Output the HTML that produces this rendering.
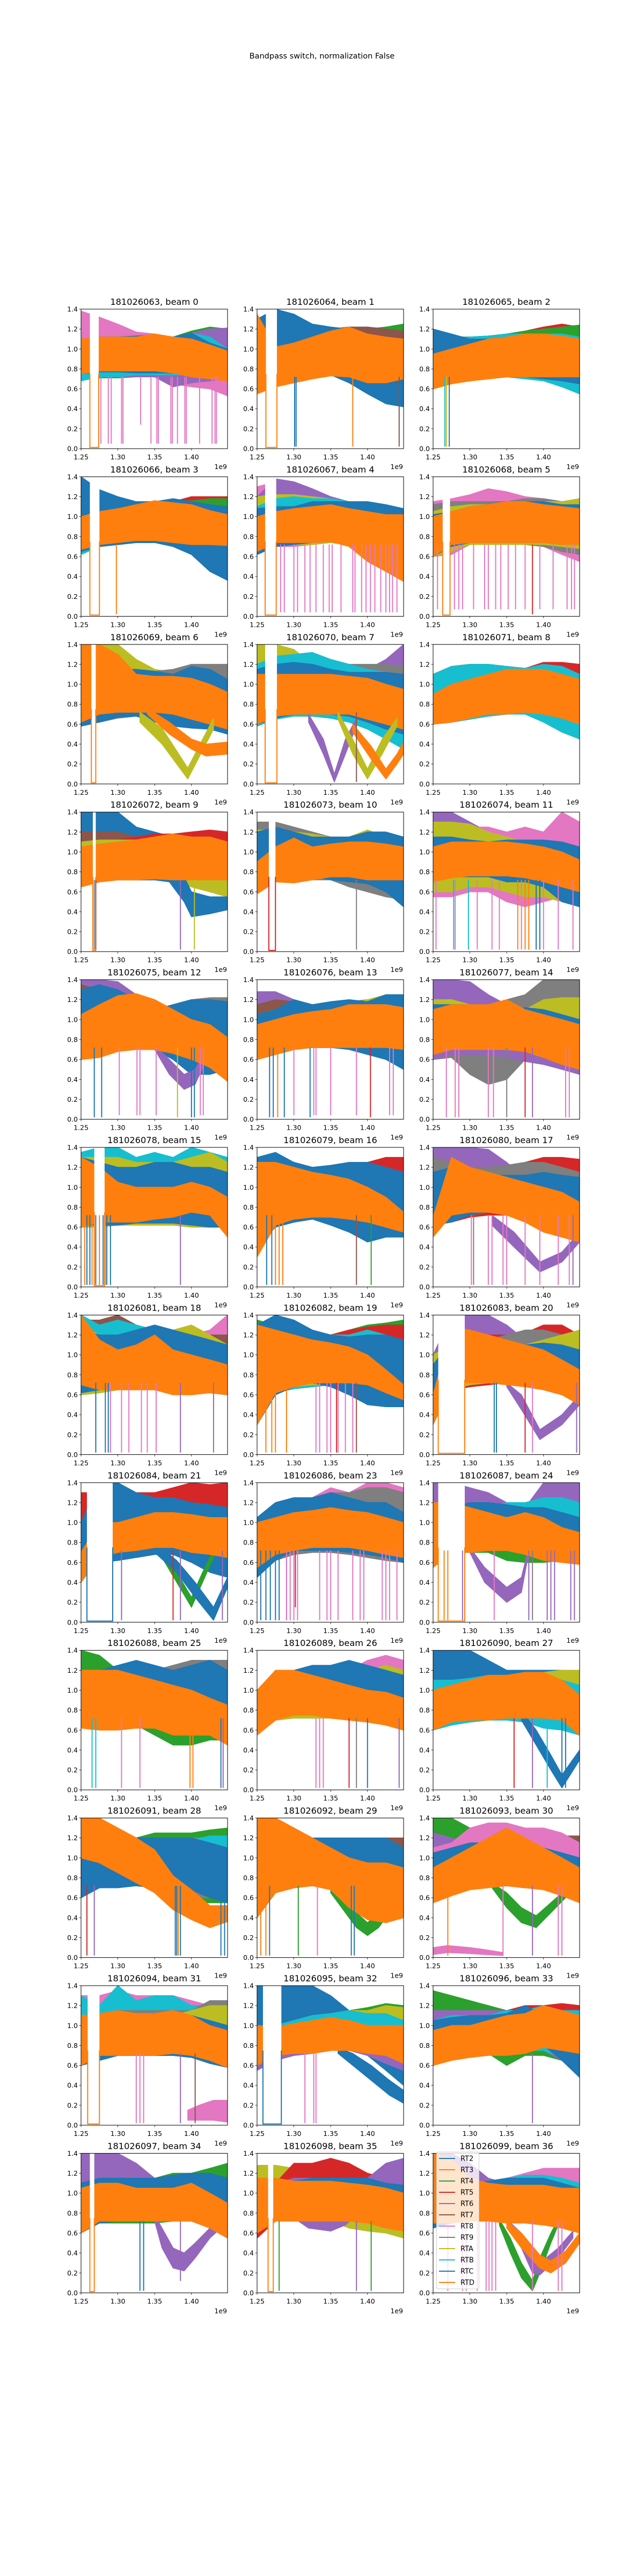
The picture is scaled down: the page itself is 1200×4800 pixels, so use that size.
<!DOCTYPE html>
<html><head><meta charset="utf-8">
<style>
html,body{margin:0;padding:0;background:#fff;}
svg{display:block;font-family:"DejaVu Sans","Liberation Sans",sans-serif;}
</style></head>
<body>
<svg id="fig" width="1200" height="4800" viewBox="0 0 1200 4800" xmlns="http://www.w3.org/2000/svg">
<rect width="1200" height="4800" fill="#fff"/>
<text x="600" y="109" text-anchor="middle" font-size="14.5" fill="#000">Bandpass switch, normalization False</text>
</svg>
<script>
// ---- chart data ----
const panelTitles = ["181026063, beam 0","181026064, beam 1","181026065, beam 2","181026066, beam 3","181026067, beam 4","181026068, beam 5","181026069, beam 6","181026070, beam 7","181026071, beam 8","181026072, beam 9","181026073, beam 10","181026074, beam 11","181026075, beam 12","181026076, beam 13","181026077, beam 14","181026078, beam 15","181026079, beam 16","181026080, beam 17","181026081, beam 18","181026082, beam 19","181026083, beam 20","181026084, beam 21","181026086, beam 23","181026087, beam 24","181026088, beam 25","181026089, beam 26","181026090, beam 27","181026091, beam 28","181026092, beam 29","181026093, beam 30","181026094, beam 31","181026095, beam 32","181026096, beam 33","181026097, beam 34","181026098, beam 35","181026099, beam 36"];
const knotFreqs = [1.25,1.275,1.30,1.325,1.35,1.375,1.40,1.425,1.449];
const xTicks = [1.25,1.30,1.35,1.40];
const xTickLabels = ["1.25","1.30","1.35","1.40"];
const yTicks = [0,0.2,0.4,0.6,0.8,1.0,1.2,1.4];
const yTickLabels = ["0.0","0.2","0.4","0.6","0.8","1.0","1.2","1.4"];
const legendLabels = ["RT2","RT3","RT4","RT5","RT6","RT7","RT8","RT9","RTA","RTB","RTC","RTD"];
const legendKeys = ["b","o","g","r","p","n","k","gy","ol","c","b","o"];
// layers: [colorKey, lowValues, highValues, optionalFreqs]
const panelLayers = [
 [["k",[.68,.72,.72,.72,.72,.65,.62,.60,.53],[1.38,1.32,1.25,1.17,1.15,1.12,1.14,1.14,1.1]],
  ["g",[.7,.71,.71,.72,.74,.74,.74,.74,.72],[1.05,1.08,1.1,1.12,1.14,1.12,1.18,1.22,1.2]],
  ["p",[.7,.72,.72,.72,.72,.62,.66,.68,.7],[1.05,1.08,1.1,1.12,1.14,1.12,1.16,1.2,1.21]],
  ["c",[.68,.72,.72,.74,.74,.74,.74,.72,.7],[1.08,1.1,1.12,1.13,1.14,1.12,1.16,1.12,1.0]],
  ["b",[.75,.77,.77,.76,.76,.76,.74,.74,.74],[1.1,1.12,1.12,1.13,1.14,1.12,1.16,1.06,1.0]],
  ["o",[.75,.78,.78,.78,.78,.76,.72,.70,.68],[1.1,1.12,1.12,1.12,1.15,1.12,1.1,1.04,.98]]],
 [["g",[.55,.7,.72,.75,.75,.74,.72,.7,.7],[1.3,1.35,1.3,1.22,1.2,1.22,1.2,1.22,1.25]],
  ["n",[.55,.7,.72,.75,.75,.74,.72,.7,.7],[1.3,1.35,1.3,1.22,1.2,1.22,1.22,1.2,1.18]],
  ["b",[.6,.62,.7,.72,.74,.66,.55,.45,.42],[1.3,1.4,1.35,1.25,1.22,1.2,1.12,1.1,1.08]],
  ["o",[.55,.62,.66,.70,.73,.72,.66,.66,.7],[1.35,1.02,1.06,1.12,1.18,1.22,1.15,1.12,1.1]]],
 [["r",[.65,.66,.68,.7,.72,.72,.75,.78,.8],[1.15,1.12,1.12,1.13,1.15,1.18,1.22,1.25,1.22]],
  ["g",[.65,.66,.68,.7,.72,.72,.75,.78,.8],[1.15,1.12,1.12,1.13,1.15,1.18,1.2,1.22,1.24]],
  ["c",[.65,.68,.7,.72,.72,.7,.68,.62,.55],[1.15,1.12,1.12,1.13,1.15,1.15,1.15,1.15,1.12]],
  ["b",[.6,.7,.72,.72,.72,.72,.7,.68,.65],[1.2,1.15,1.1,1.1,1.12,1.12,1.1,1.08,1.05]],
  ["o",[.6,.65,.68,.7,.72,.72,.72,.72,.72],[.95,1.0,1.05,1.1,1.12,1.15,1.15,1.13,1.1]]],
 [["r",[.65,.7,.72,.74,.74,.72,.72,.8,.9],[1.2,1.2,1.18,1.12,1.12,1.15,1.2,1.2,1.2]],
  ["g",[.65,.7,.72,.74,.74,.72,.72,.8,.9],[1.2,1.2,1.18,1.12,1.12,1.15,1.16,1.18,1.18]],
  ["c",[.62,.7,.72,.74,.74,.72,.7,.68,.6],[1.12,1.12,1.12,1.12,1.12,1.12,1.1,1.08,1.05]],
  ["b",[.65,.7,.72,.74,.74,.70,.62,.45,.36],[1.4,1.27,1.2,1.15,1.15,1.18,1.15,1.12,1.1]],
  ["o",[.67,.72,.74,.76,.76,.74,.72,.72,.71],[1.0,1.05,1.08,1.12,1.16,1.14,1.12,1.06,1.02]]],
 [["k",[.62,.70,.70,.72,.74,.72,.6,.45,.4],[1.3,1.35,1.3,1.25,1.2,1.1,1.05,1.0,.95]],
  ["p",[.62,.72,.72,.72,.74,.72,.65,.55,.5],[1.2,1.38,1.35,1.28,1.2,1.15,1.1,1.05,1.0]],
  ["ol",[.62,.72,.72,.72,.74,.72,.65,.55,.5],[1.2,1.22,1.22,1.2,1.18,1.15,1.1,1.05,1.0]],
  ["c",[.62,.72,.73,.74,.75,.72,.68,.6,.5],[1.1,1.18,1.2,1.18,1.18,1.15,1.1,1.05,1.0]],
  ["b",[.62,.70,.72,.74,.75,.74,.70,.68,.66],[1.08,1.1,1.1,1.15,1.15,1.15,1.15,1.12,1.08]],
  ["o",[.65,.74,.74,.74,.75,.70,.55,.45,.35],[1.0,1.05,1.08,1.1,1.12,1.08,1.05,1.02,1.02]]],
 [["k",[.6,.62,.72,.72,.72,.72,.7,.62,.55],[1.15,1.18,1.22,1.28,1.25,1.2,1.18,1.15,1.15]],
  ["gy",[.6,.65,.72,.72,.72,.72,.7,.65,.62],[1.12,1.15,1.15,1.15,1.15,1.18,1.18,1.15,1.18]],
  ["ol",[.6,.65,.72,.72,.72,.72,.72,.7,.68],[1.05,1.1,1.12,1.12,1.12,1.15,1.15,1.15,1.18]],
  ["b",[.6,.7,.74,.74,.74,.74,.74,.72,.72],[1.02,1.05,1.1,1.12,1.15,1.15,1.15,1.12,1.12]],
  ["o",[.6,.72,.74,.74,.74,.74,.74,.72,.72],[1.0,1.05,1.1,1.12,1.15,1.15,1.12,1.1,1.08]]],
 [["ol",[.9,.9,.9,.9,.9,.9,.9,.9,.9],[1.4,1.4,1.4,1.25,1.15,1.12,1.1,1.1,1.1]],
  ["gy",[.6,.62,.66,.68,.65,.6,.58,.55,.55],[1.1,1.12,1.15,1.15,1.13,1.15,1.2,1.2,1.2]],
  ["b",[.58,.62,.67,.68,.62,.58,.56,.55,.5],[1.1,1.12,1.15,1.15,1.13,1.1,1.18,1.15,1.05]],
  ["o",[.62,.7,.72,.72,.72,.7,.65,.6,.55],[1.4,1.4,1.3,1.1,1.08,1.08,1.06,1.0,.92]],
  ["ol",[.62,.4,.05,.55],[.72,.56,.16,.66],[1.33,1.36,1.395,1.43]],
  ["o",[.7,.5,.35,.28,.3],[.76,.62,.45,.4,.42],[1.34,1.37,1.40,1.42,1.449]]],
 [["ol",[.9,.9,.9,.9,.9,.9,.9,.9,.9],[1.4,1.4,1.35,1.2,1.15,1.12,1.1,1.1,1.1]],
  ["p",[.9,.9,.9,.9,.9,.9,.9,1.0,1.0],[1.1,1.1,1.1,1.1,1.1,1.1,1.15,1.25,1.4]],
  ["gy",[.58,.65,.68,.68,.66,.62,.6,.55,.52],[1.2,1.28,1.3,1.3,1.25,1.2,1.2,1.2,1.18]],
  ["c",[.58,.65,.68,.68,.66,.62,.55,.45,.35],[1.2,1.28,1.3,1.32,1.25,1.2,1.15,1.12,1.1]],
  ["b",[.6,.66,.7,.7,.7,.68,.62,.55,.5],[1.15,1.2,1.22,1.2,1.15,1.12,1.12,1.12,1.1]],
  ["o",[.6,.68,.7,.7,.7,.7,.65,.6,.55],[1.1,1.1,1.1,1.1,1.1,1.08,1.06,1.0,.95]],
  ["p",[.62,.3,.02,.3,.58],[.7,.45,.1,.45,.66],[1.32,1.34,1.355,1.37,1.385]],
  ["ol",[.65,.3,.05,.3,.58],[.72,.45,.15,.45,.66],[1.36,1.38,1.40,1.42,1.44]],
  ["o",[.52,.25,.05,.2,.3],[.6,.38,.15,.3,.42],[1.38,1.405,1.425,1.44,1.449]]],
 [["r",[.6,.62,.65,.68,.7,.7,.75,.8,.8],[1.1,1.18,1.2,1.2,1.18,1.16,1.22,1.22,1.2]],
  ["c",[.6,.62,.65,.68,.7,.7,.62,.52,.45],[1.1,1.18,1.2,1.2,1.18,1.16,1.2,1.18,1.1]],
  ["o",[.6,.62,.66,.7,.7,.72,.7,.66,.6],[.9,1.0,1.05,1.1,1.15,1.15,1.15,1.1,1.05]]],
 [["b",[.75,.75,.75,.75,.75,.75,.75,.75,.75],[1.4,1.4,1.4,1.25,1.2,1.15,1.1,1.1,1.1]],
  ["n",[.65,.7,.72,.72,.72,.7,.65,.6,.55],[1.2,1.2,1.2,1.15,1.12,1.12,1.15,1.18,1.15]],
  ["r",[.65,.7,.72,.72,.72,.7,.72,.85,.9],[1.05,1.1,1.12,1.15,1.18,1.18,1.2,1.22,1.2]],
  ["ol",[.65,.7,.72,.72,.72,.7,.65,.6,.55],[1.1,1.12,1.12,1.12,1.1,1.1,1.1,1.1,1.1]],
  ["b",[.72,.72,.72,.72,.7,.5,.35,.38,.42],[.9,.9,.9,.9,.85,.75,.6,.55,.55],[1.25,1.30,1.33,1.35,1.37,1.39,1.40,1.425,1.449]],
  ["o",[.65,.7,.72,.72,.73,.72,.72,.72,.72],[1.05,1.08,1.1,1.12,1.15,1.18,1.15,1.15,1.1]]],
 [["gy",[.6,.7,.72,.72,.72,.65,.6,.55,.52],[1.3,1.3,1.25,1.2,1.15,1.12,1.15,1.1,1.1]],
  ["ol",[.6,.7,.73,.75,.72,.7,.68,.6,.45],[1.22,1.22,1.2,1.18,1.15,1.15,1.22,1.15,1.1]],
  ["b",[.6,.7,.73,.75,.72,.7,.68,.6,.45],[1.2,1.25,1.2,1.15,1.15,1.15,1.2,1.2,1.15]],
  ["o",[.58,.7,.69,.72,.75,.75,.72,.72,.72],[.9,1.05,1.14,1.05,1.08,1.1,1.1,1.08,1.05]]],
 [["p",[.9,.9,.9,.9,.9,.9,.9,.9,.9],[1.4,1.4,1.3,1.2,1.15,1.1,1.1,1.1,1.1]],
  ["k",[.55,.55,.6,.6,.5,.45,.5,.55,.55],[1.25,1.28,1.25,1.25,1.2,1.25,1.2,1.4,1.3]],
  ["ol",[.6,.6,.65,.65,.6,.55,.55,.5,.5],[1.3,1.3,1.28,1.2,1.15,1.1,1.1,1.1,1.05]],
  ["b",[.75,.75,.75,.75,.7,.7,.65,.5,.45],[1.15,1.15,1.12,1.1,1.12,1.12,1.12,1.1,1.05]],
  ["o",[.7,.74,.76,.76,.76,.74,.7,.65,.6],[1.05,1.1,1.1,1.1,1.1,1.08,1.05,1.0,.92]]],
 [["p",[.9,.9,.9,.9,.9,.9,.9,.9,.9],[1.4,1.4,1.38,1.25,1.1,1.05,1.05,1.05,1.05]],
  ["n",[.65,.65,.7,.7,.7,.65,.6,.6,.55],[1.35,1.3,1.28,1.2,1.1,1.1,1.15,1.2,1.2]],
  ["gy",[.65,.65,.7,.7,.7,.65,.6,.6,.55],[1.2,1.2,1.2,1.15,1.1,1.15,1.2,1.22,1.22]],
  ["ol",[.65,.65,.7,.7,.7,.65,.6,.6,.55],[1.1,1.1,1.1,1.1,1.05,1.1,1.15,1.15,1.15]],
  ["b",[.65,.68,.7,.72,.7,.6,.45,.45,.5],[1.3,1.35,1.3,1.2,1.1,1.15,1.2,1.2,1.18]],
  ["p",[.7,.45,.3,.35,.6],[.74,.6,.45,.5,.7],[1.35,1.37,1.39,1.405,1.42]],
  ["o",[.6,.62,.68,.7,.7,.66,.6,.52,.38],[1.05,1.15,1.24,1.26,1.2,1.1,1.0,.95,.82]]],
 [["p",[.6,.65,.7,.72,.72,.72,.72,.7,.65],[1.28,1.28,1.2,1.15,1.15,1.15,1.15,1.1,1.1]],
  ["n",[.6,.65,.7,.72,.72,.72,.72,.7,.65],[1.15,1.2,1.18,1.1,1.1,1.1,1.1,1.1,1.1]],
  ["gy",[.6,.65,.7,.72,.72,.72,.72,.7,.65],[1.05,1.1,1.1,1.1,1.1,1.18,1.2,1.2,1.18]],
  ["ol",[.6,.65,.7,.72,.72,.72,.72,.7,.68],[1.05,1.1,1.1,1.1,1.1,1.15,1.2,1.25,1.25]],
  ["b",[.6,.65,.7,.72,.72,.7,.65,.6,.5],[1.05,1.1,1.2,1.15,1.18,1.2,1.18,1.25,1.25]],
  ["o",[.6,.65,.7,.72,.72,.72,.72,.72,.7],[.95,1.0,1.05,1.08,1.1,1.15,1.15,1.15,1.12]]],
 [["p",[.9,.9,.9,.9,.9,.9,.9,.9,.9],[1.4,1.4,1.38,1.25,1.15,1.1,1.1,1.1,1.1]],
  ["gy",[.6,.62,.45,.35,.4,.6,.65,.65,.6],[1.2,1.2,1.15,1.12,1.2,1.25,1.4,1.4,1.4]],
  ["ol",[.6,.65,.7,.7,.68,.65,.6,.6,.55],[1.2,1.2,1.15,1.1,1.05,1.1,1.2,1.22,1.22]],
  ["p",[.6,.65,.65,.65,.62,.58,.55,.5,.45],[.9,.9,.9,.85,.8,.75,.75,.75,.75]],
  ["b",[.7,.72,.72,.72,.72,.7,.65,.6,.55],[1.15,1.15,1.15,1.12,1.1,1.12,1.1,1.05,1.0]],
  ["o",[.65,.7,.7,.7,.7,.68,.62,.55,.5],[1.1,1.15,1.15,1.15,1.2,1.1,1.05,1.0,.95]]],
 [["c",[.6,.6,.62,.62,.62,.62,.6,.6,.6],[1.35,1.4,1.4,1.3,1.35,1.3,1.4,1.35,1.3]],
  ["ol",[.6,.6,.62,.62,.62,.62,.6,.6,.6],[1.3,1.3,1.3,1.25,1.25,1.25,1.3,1.35,1.25]],
  ["b",[.62,.62,.62,.64,.64,.64,.62,.6,.6],[1.3,1.25,1.2,1.2,1.25,1.25,1.2,1.2,1.15]],
  ["o",[.6,.65,.65,.65,.68,.7,.75,.72,.5],[1.3,1.2,1.05,1.0,1.0,1.0,1.05,1.0,.9]]],
 [["r",[.5,.6,.65,.68,.7,.7,.75,.8,.85],[1.3,1.3,1.25,1.2,1.2,1.2,1.25,1.3,1.3]],
  ["c",[.5,.6,.65,.68,.7,.7,.75,.78,.75],[1.3,1.3,1.25,1.2,1.2,1.2,1.2,1.15,1.05]],
  ["ol",[.5,.62,.68,.7,.7,.68,.62,.55,.5],[1.3,1.3,1.25,1.2,1.2,1.18,1.12,1.05,1.0]],
  ["b",[.4,.6,.65,.68,.62,.55,.45,.5,.5],[1.3,1.35,1.25,1.2,1.22,1.25,1.25,1.2,1.15]],
  ["o",[.3,.62,.68,.7,.7,.68,.65,.6,.55],[1.25,1.25,1.2,1.15,1.12,1.08,1.0,.9,.75]]],
 [["p",[.9,.9,.9,.9,.9,.9,.9,.9,.9],[1.4,1.4,1.4,1.38,1.25,1.1,1.05,1.05,1.05]],
  ["r",[.62,.65,.7,.72,.72,.8,.9,.9,.9],[1.3,1.25,1.2,1.2,1.22,1.25,1.3,1.3,1.28]],
  ["gy",[.62,.65,.72,.75,.72,.7,.65,.6,.55],[1.3,1.25,1.2,1.2,1.22,1.25,1.25,1.2,1.15]],
  ["b",[.62,.65,.72,.75,.72,.7,.65,.6,.55],[1.15,1.2,1.15,1.12,1.12,1.12,1.15,1.12,1.1]],
  ["p",[.62,.4,.15,.25,.45],[.72,.55,.25,.35,.55],[1.33,1.36,1.395,1.425,1.449]],
  ["o",[.5,.72,.75,.75,.72,.65,.55,.5,.45],[.7,1.3,1.2,1.15,1.1,1.05,1.0,.95,.85]]],
 [["k",[.6,.62,.65,.65,.65,.62,.62,.62,.6],[1.4,1.3,1.25,1.2,1.2,1.2,1.2,1.25,1.4]],
  ["n",[.6,.62,.65,.65,.65,.62,.62,.62,.6],[1.35,1.35,1.4,1.3,1.25,1.2,1.25,1.2,1.2]],
  ["c",[.6,.62,.65,.65,.65,.62,.62,.62,.6],[1.4,1.3,1.35,1.3,1.25,1.25,1.2,1.2,1.1]],
  ["ol",[.6,.62,.65,.65,.65,.62,.62,.62,.6],[1.3,1.2,1.15,1.15,1.2,1.25,1.3,1.2,1.1]],
  ["b",[.62,.65,.68,.68,.68,.65,.62,.62,.6],[1.25,1.2,1.2,1.25,1.3,1.25,1.2,1.15,1.1]],
  ["o",[.7,.65,.65,.65,.65,.6,.6,.62,.6],[1.4,1.15,1.05,1.1,1.2,1.05,1.0,.95,.9]]],
 [["g",[.3,.65,.68,.72,.72,.72,.72,.72,.72],[1.35,1.3,1.25,1.2,1.2,1.25,1.3,1.32,1.35]],
  ["r",[.3,.62,.66,.68,.7,.72,.72,.72,.72],[1.3,1.28,1.25,1.2,1.2,1.25,1.28,1.3,1.3]],
  ["c",[.3,.62,.66,.68,.7,.72,.72,.65,.6],[1.3,1.28,1.25,1.2,1.2,1.2,1.25,1.2,1.05]],
  ["ol",[.3,.65,.68,.7,.7,.68,.62,.55,.5],[1.25,1.25,1.2,1.2,1.15,1.1,1.05,1.0,.9]],
  ["b",[.3,.6,.68,.72,.68,.6,.5,.48,.48],[1.3,1.4,1.35,1.25,1.2,1.18,1.2,1.2,1.15]],
  ["o",[.3,.62,.68,.72,.72,.72,.7,.62,.55],[1.3,1.25,1.2,1.15,1.12,1.08,1.0,.85,.7]]],
 [["p",[.9,.9,.9,.9,.9,.9,.9,.9,.9],[1.0,1.4,1.4,1.4,1.3,1.15,1.1,1.1,1.1]],
  ["r",[.6,.65,.68,.7,.72,.75,.8,.85,.9],[1.0,1.2,1.2,1.2,1.2,1.22,1.3,1.3,1.2]],
  ["gy",[.6,.65,.7,.72,.72,.72,.7,.65,.6],[1.0,1.2,1.2,1.15,1.2,1.25,1.25,1.2,1.15]],
  ["ol",[.6,.65,.7,.72,.72,.72,.7,.7,.7],[1.0,1.1,1.1,1.1,1.1,1.1,1.15,1.2,1.25]],
  ["b",[.3,.7,.74,.74,.72,.7,.65,.6,.55],[.9,1.15,1.12,1.1,1.08,1.1,1.12,1.1,1.05]],
  ["p",[.68,.45,.15,.3,.5],[.72,.6,.25,.4,.6],[1.35,1.37,1.395,1.425,1.449]],
  ["o",[.3,.72,.72,.72,.7,.68,.65,.6,.5],[.6,1.28,1.25,1.2,1.15,1.1,1.05,.95,.85]]],
 [["r",[.6,.6,.65,.65,.68,.7,.72,.8,.9],[1.3,1.3,1.35,1.3,1.3,1.35,1.4,1.38,1.4]],
  ["b",[.5,.6,.62,.65,.68,.68,.6,.5,.45],[1.0,1.4,1.4,1.3,1.25,1.25,1.2,1.18,1.15]],
  ["g",[.65,.4,.15,.4,.65],[.72,.5,.25,.5,.72],[1.36,1.38,1.40,1.415,1.43]],
  ["b",[.7,.5,.25,.02,.35],[.8,.62,.4,.15,.45],[1.35,1.38,1.405,1.43,1.449]],
  ["o",[.4,.65,.7,.72,.75,.75,.7,.68,.65],[.7,1.0,1.0,1.05,1.1,1.1,1.08,1.05,1.05]]],
 [["k",[.6,.62,.68,.7,.7,.68,.65,.62,.6],[1.0,1.15,1.2,1.25,1.35,1.3,1.4,1.4,1.35]],
  ["gy",[.6,.62,.68,.7,.7,.68,.65,.62,.6],[1.05,1.2,1.25,1.25,1.3,1.3,1.35,1.35,1.3]],
  ["b",[.45,.62,.72,.72,.72,.7,.68,.65,.6],[1.05,1.2,1.25,1.25,1.3,1.25,1.2,1.2,1.1]],
  ["o",[.55,.68,.72,.75,.75,.75,.72,.68,.65],[1.0,1.05,1.1,1.12,1.15,1.12,1.1,1.05,1.0]]],
 [["p",[.9,.9,.9,.9,.9,.9,.9,.9,.9],[1.4,1.4,1.35,1.3,1.2,1.15,1.4,1.4,1.4]],
  ["c",[.55,.7,.7,.7,.7,.72,.72,.7,.65],[1.15,1.15,1.15,1.15,1.2,1.2,1.25,1.25,1.2]],
  ["g",[.55,.7,.7,.7,.62,.6,.6,.62,.6],[1.15,1.15,1.15,1.1,1.1,1.1,1.1,1.1,1.05]],
  ["b",[.55,.72,.7,.72,.72,.7,.7,.68,.6],[1.1,1.15,1.2,1.2,1.18,1.15,1.15,1.1,1.05]],
  ["p",[.7,.4,.2,.3,.7],[.75,.55,.35,.45,.75],[1.30,1.32,1.35,1.37,1.38]],
  ["o",[.55,.72,.7,.72,.72,.68,.62,.6,.58],[1.2,1.2,1.15,1.1,1.05,1.1,1.05,.95,.9]]],
 [["g",[.7,.68,.68,.65,.55,.45,.45,.5,.5],[1.4,1.35,1.2,1.15,1.15,1.2,1.2,1.2,1.15]],
  ["gy",[.62,.62,.62,.62,.62,.6,.6,.62,.6],[1.15,1.2,1.2,1.2,1.2,1.25,1.3,1.3,1.3]],
  ["ol",[.62,.62,.62,.62,.62,.6,.6,.62,.6],[1.1,1.15,1.15,1.15,1.15,1.2,1.2,1.2,1.15]],
  ["b",[.62,.62,.62,.62,.62,.6,.6,.55,.5],[1.15,1.2,1.25,1.3,1.25,1.2,1.25,1.3,1.2]],
  ["o",[.62,.6,.6,.62,.62,.55,.55,.55,.45],[1.2,1.2,1.2,1.15,1.1,1.05,1.0,.92,.85]]],
 [["k",[.55,.7,.72,.72,.72,.7,.68,.65,.6],[.9,1.15,1.2,1.2,1.25,1.2,1.3,1.35,1.3]],
  ["ol",[.55,.7,.72,.72,.72,.7,.68,.65,.6],[.9,1.1,1.15,1.15,1.15,1.15,1.2,1.25,1.2]],
  ["b",[.55,.72,.75,.78,.75,.72,.7,.65,.6],[.9,1.2,1.2,1.25,1.25,1.3,1.25,1.2,1.15]],
  ["o",[.55,.7,.75,.75,.72,.7,.68,.65,.6],[1.0,1.2,1.2,1.15,1.1,1.05,1.0,.98,.92]]],
 [["b",[.75,.75,.75,.75,.75,.75,.75,.75,.75],[1.4,1.4,1.4,1.3,1.2,1.2,1.2,1.2,1.15]],
  ["ol",[.6,.65,.68,.7,.7,.7,.7,.65,.55],[1.1,1.1,1.1,1.12,1.15,1.15,1.18,1.2,1.2]],
  ["c",[.6,.65,.68,.7,.7,.68,.62,.6,.55],[1.1,1.1,1.12,1.15,1.15,1.18,1.15,1.1,1.05]],
  ["b",[.7,.45,.2,.02,.3],[.8,.6,.35,.15,.4],[1.37,1.39,1.41,1.425,1.449]],
  ["o",[.6,.68,.7,.7,.72,.72,.72,.7,.55],[1.0,1.05,1.1,1.15,1.15,1.18,1.18,1.1,.95]]],
 [["g",[.65,.7,.72,.72,.7,.62,.55,.55,.55],[1.0,1.1,1.15,1.2,1.25,1.25,1.25,1.28,1.3]],
  ["gy",[.65,.7,.72,.72,.7,.65,.6,.6,.6],[1.0,1.0,1.05,1.15,1.2,1.2,1.2,1.2,1.2]],
  ["c",[.6,.7,.72,.72,.72,.7,.68,.65,.6],[.95,.95,1.0,1.15,1.18,1.15,1.18,1.22,1.22]],
  ["b",[.6,.7,.7,.72,.7,.7,.68,.6,.55],[1.0,1.0,.95,1.2,1.2,1.2,1.2,1.15,1.1]],
  ["o",[1.0,.95,.85,.75,.65,.48,.38,.3,.36],[1.4,1.4,1.3,1.2,1.08,.82,.68,.52,.52]]],
 [["n",[.4,.65,.7,.72,.75,.72,.7,.7,.7],[1.4,1.4,1.3,1.2,1.15,1.18,1.2,1.2,1.2]],
  ["b",[.5,.65,.7,.72,.75,.7,.62,.5,.45],[1.3,1.25,1.2,1.2,1.2,1.2,1.2,1.2,1.1]],
  ["g",[.65,.45,.3,.22,.3,.45],[.72,.6,.45,.35,.45,.6],[1.35,1.37,1.385,1.40,1.415,1.43]],
  ["o",[.4,.65,.7,.72,.68,.5,.38,.35,.4],[1.4,1.4,1.3,1.2,1.1,1.0,.95,.95,.9]]],
 [["g",[.9,.9,.9,.9,.9,.9,.9,.9,.9],[1.4,1.4,1.3,1.2,1.15,1.15,1.15,1.15,1.15]],
  ["p",[.6,.65,.7,.72,.72,.7,.7,.7,.65],[1.25,1.2,1.15,1.15,1.15,1.15,1.15,1.15,1.2]],
  ["n",[.6,.65,.7,.72,.72,.7,.7,.7,.65],[1.1,1.1,1.15,1.2,1.2,1.2,1.2,1.22,1.22]],
  ["k",[.6,.65,.7,.72,.72,.7,.7,.7,.65],[1.1,1.15,1.3,1.35,1.35,1.3,1.3,1.25,1.15]],
  ["b",[.55,.62,.7,.72,.72,.7,.7,.7,.65],[1.05,1.1,1.15,1.15,1.2,1.15,1.1,1.05,1.0]],
  ["g",[.7,.5,.35,.3,.45,.6],[.75,.65,.5,.42,.55,.68],[1.33,1.35,1.37,1.39,1.41,1.43]],
  ["k",[.03,.05,.04,.03,.02],[.1,.12,.1,.08,.05],[1.25,1.27,1.30,1.32,1.345]],
  ["o",[.55,.62,.68,.7,.72,.7,.68,.62,.55],[.9,1.0,1.1,1.2,1.3,1.2,1.1,1.0,.9]]],
 [["k",[.6,.65,.7,.7,.7,.7,.68,.62,.58],[1.3,1.3,1.35,1.3,1.3,1.3,1.25,1.2,1.15]],
  ["c",[.6,.65,.7,.7,.7,.7,.68,.62,.58],[1.3,1.2,1.4,1.25,1.3,1.3,1.2,1.2,1.15]],
  ["gy",[.6,.65,.7,.7,.7,.7,.68,.62,.58],[1.05,1.1,1.15,1.15,1.15,1.15,1.15,1.25,1.25]],
  ["ol",[.6,.65,.7,.7,.7,.7,.68,.62,.58],[1.05,1.1,1.1,1.1,1.1,1.1,1.15,1.2,1.2]],
  ["b",[.6,.65,.7,.7,.7,.7,.68,.62,.58],[1.05,1.1,1.1,1.1,1.1,1.12,1.1,1.05,1.0]],
  ["k",[.05,.05,.05,.03],[.15,.2,.25,.25],[1.395,1.41,1.43,1.449]],
  ["o",[.6,.7,.7,.7,.7,.72,.7,.65,.58],[1.1,1.12,1.15,1.12,1.12,1.15,1.1,1.0,.95]]],
 [["b",[.6,.75,.75,.75,.75,.75,.7,.55,.4],[1.4,1.4,1.4,1.4,1.3,1.15,1.1,1.05,1.0]],
  ["g",[.55,.65,.7,.72,.75,.75,.72,.7,.65],[1.0,1.0,1.05,1.1,1.12,1.15,1.18,1.22,1.2]],
  ["ol",[.55,.65,.7,.72,.75,.75,.72,.7,.65],[1.0,1.0,1.05,1.1,1.12,1.15,1.15,1.2,1.18]],
  ["c",[.55,.65,.7,.72,.75,.75,.72,.7,.65],[1.0,1.0,1.05,1.1,1.12,1.15,1.12,1.12,1.05]],
  ["p",[.55,.65,.7,.72,.75,.75,.7,.62,.55],[1.0,1.0,1.0,1.0,1.0,1.0,1.0,.9,.9]],
  ["b",[.72,.6,.45,.3,.22],[.78,.72,.6,.45,.35],[1.36,1.38,1.405,1.43,1.449]],
  ["o",[.6,.7,.72,.72,.75,.75,.72,.7,.62],[1.0,.98,1.02,1.05,1.08,1.05,1.0,1.0,1.0]]],
 [["g",[.7,.7,.7,.72,.6,.7,.7,.65,.6],[1.35,1.3,1.25,1.2,1.15,1.15,1.15,1.15,1.12]],
  ["r",[.7,.7,.7,.72,.72,.75,.78,.78,.78],[1.1,1.1,1.1,1.1,1.15,1.2,1.2,1.22,1.2]],
  ["p",[.7,.7,.7,.72,.72,.75,.75,.65,.6],[1.15,1.15,1.15,1.15,1.15,1.15,1.15,1.15,1.15]],
  ["c",[.7,.7,.7,.72,.72,.75,.75,.68,.62],[1.05,1.1,1.1,1.1,1.15,1.15,1.2,1.15,1.15]],
  ["b",[.7,.7,.7,.72,.72,.75,.8,.65,.48],[1.05,1.08,1.1,1.1,1.12,1.2,1.1,1.05,1.0]],
  ["o",[.6,.65,.68,.7,.7,.72,.78,.75,.72],[.95,1.0,1.0,1.05,1.1,1.12,1.2,1.15,1.1]]],
 [["p",[.9,.9,.9,.9,.9,.9,.9,.9,.9],[1.4,1.4,1.4,1.3,1.15,1.1,1.1,1.1,1.1]],
  ["g",[.7,.7,.7,.7,.7,.72,.8,.9,.9],[1.1,1.15,1.15,1.15,1.15,1.2,1.2,1.25,1.3]],
  ["b",[.6,.7,.72,.72,.72,.72,.72,.65,.55],[1.1,1.15,1.15,1.15,1.15,1.18,1.2,1.2,1.15]],
  ["p",[.72,.45,.25,.22,.35,.55,.65],[.78,.65,.45,.4,.5,.65,.72],[1.35,1.36,1.375,1.39,1.405,1.425,1.44]],
  ["o",[.6,.72,.72,.72,.72,.72,.72,.65,.55],[1.05,1.1,1.1,1.05,1.05,1.05,1.1,1.0,.9]]],
 [["ol",[.6,.72,.75,.75,.72,.65,.62,.6,.55],[1.28,1.28,1.25,1.15,1.1,1.1,1.1,1.1,1.1]],
  ["r",[.55,.72,.75,.75,.72,.72,.72,.72,.7],[1.0,1.1,1.3,1.3,1.35,1.3,1.2,1.15,1.15]],
  ["p",[.6,.72,.75,.75,.72,.72,.72,.72,.7],[1.0,1.1,1.15,1.15,1.15,1.15,1.15,1.3,1.35]],
  ["b",[.6,.72,.72,.72,.72,.72,.72,.7,.65],[1.0,1.1,1.12,1.15,1.15,1.15,1.15,1.1,1.08]],
  ["p",[.75,.65,.62,.68,.75],[.8,.75,.75,.8,.82],[1.30,1.32,1.35,1.37,1.38]],
  ["o",[.6,.72,.72,.72,.72,.72,.7,.65,.62],[1.15,1.15,1.12,1.12,1.12,1.1,1.08,1.05,1.0]]],
 [["p",[.9,.9,.9,.9,.9,.9,.9,.9,.9],[1.4,1.4,1.3,1.15,1.1,1.1,1.1,1.1,1.1]],
  ["k",[.7,.7,.72,.72,.72,.72,.75,.8,.8],[1.1,1.1,1.1,1.1,1.15,1.2,1.25,1.25,1.25]],
  ["c",[.7,.7,.72,.72,.72,.72,.72,.72,.7],[1.1,1.1,1.1,1.12,1.15,1.18,1.18,1.15,1.1]],
  ["b",[.65,.7,.72,.72,.72,.72,.72,.72,.7],[1.1,1.1,1.1,1.12,1.15,1.15,1.15,1.1,1.05]],
  ["g",[.68,.4,.15,.02,.2,.5,.68],[.74,.55,.3,.12,.35,.6,.74],[1.34,1.355,1.37,1.385,1.395,1.41,1.42]],
  ["p",[.68,.45,.2,.18,.35,.55],[.74,.6,.35,.3,.45,.62],[1.35,1.37,1.385,1.395,1.42,1.44]],
  ["o",[.65,.45,.25,.2,.3,.5],[.72,.6,.38,.32,.42,.6],[1.35,1.37,1.395,1.41,1.43,1.449]],
  ["o",[.7,.7,.72,.72,.7,.7,.68,.65,.6],[1.4,1.35,1.15,1.1,1.08,1.08,1.08,1.05,1.05]]]
];
// gaps: [startFreq, endFreq, outlineColorKey] or null
const panelGaps = [[1.262,1.274,"o"],[1.262,1.277,"o"],null,[1.262,1.275,"o"],[1.261,1.276,"o"],[1.263,1.273,"o"],[1.264,1.27,"o"],[1.261,1.277,"o"],null,[1.266,1.27,"o"],[1.266,1.275,"r"],null,null,null,null,[1.268,1.282,"o"],null,null,null,null,[1.257,1.293,"o"],[1.258,1.293,"b"],null,[1.257,1.293,"o"],null,null,null,null,null,null,[1.259,1.275,"o"],[1.258,1.283,"b"],null,[1.262,1.268,"o"],[1.265,1.272,"o"],null];
// spikes: [colorKey, [freqs], minValue]
const panelSpikes = [
 [["k",[1.277,1.287,1.291,1.305,1.307,1.345,1.353,1.355,1.372,1.374,1.381,1.391,1.393,1.411,1.428,1.432,1.434],.05],["k",[1.331],.24]],
 [["b",[1.301,1.303],.02],["o",[1.38],.02],["n",[1.443],.02]],
 [["c",[1.266],.02],["ol",[1.268],.02],["b",[1.272],.02]],
 [["o",[1.298],.02]],
 [["k",[1.282,1.287,1.300,1.305,1.315,1.322,1.33,1.34,1.348,1.352,1.364,1.38,1.383,1.392,1.398,1.404,1.41,1.418,1.425,1.43,1.434,1.44],.04]],
 [["k",[1.256,1.279,1.285,1.29,1.305,1.32,1.325,1.335,1.342,1.352,1.362,1.375,1.395,1.413,1.432,1.438,1.442],.07],["r",[1.385],.02]],
 [],
 [["n",[1.385],.02]],
 [],
 [["gy",[1.268],.02],["n",[1.27],.02],["p",[1.385],.02],["ol",[1.404],.02]],
 [["gy",[1.385],.02]],
 [["k",[1.254,1.28,1.31,1.33,1.34,1.37,1.40,1.42,1.44],.02],["c",[1.278,1.298],.02],["o",[1.365,1.375,1.38],.02],["b",[1.39,1.395],.02]],
 [["b",[1.268,1.278],.02],["k",[1.302,1.326,1.33,1.352,1.412,1.416],.04],["ol",[1.381],.02],["b",[1.40,1.404],.02]],
 [["b",[1.267,1.272,1.287],.02],["o",[1.278],.02],["k",[1.3,1.327,1.33,1.35,1.385,1.43,1.435],.04],["b",[1.322],.02],["r",[1.404],.02]],
 [["k",[1.268,1.28,1.285,1.325,1.332,1.43,1.435],.02],["gy",[1.35],.02],["r",[1.375],.02],["p",[1.385],.02]],
 [["b",[1.258,1.262,1.27,1.28,1.285,1.29],.02],["o",[1.255,1.265,1.275,1.283],.02],["p",[1.385],.02]],
 [["b",[1.263,1.27],.02],["o",[1.275,1.28,1.285],.02],["n",[1.385],.02],["g",[1.405],.02]],
 [["k",[1.302,1.325,1.33,1.345,1.35,1.375,1.395,1.42,1.435],.02],["gy",[1.305],.02],["p",[1.44],.02]],
 [["k",[1.27,1.29,1.305,1.315,1.332,1.34,1.352],.02],["p",[1.385,1.43],.02],["b",[1.27,1.283,1.287],.02]],
 [["k",[1.33,1.335,1.345,1.35,1.36,1.37,1.38],.02],["r",[1.358],.02],["n",[1.385],.02],["o",[1.262,1.27,1.275,1.29],.02]],
 [["b",[1.333,1.336],.02],["r",[1.375],.02],["k",[1.385],.02],["p",[1.445],.02]],
 [["p",[1.305],.02],["r",[1.375],.02],["p",[1.385],.02],["p",[1.442],.02]],
 [["b",[1.255,1.262,1.268,1.275,1.28,1.29],.02],["k",[1.29,1.295,1.3,1.305,1.335,1.345,1.35,1.36,1.38,1.39,1.395,1.42,1.425,1.43,1.44],.02],["r",[1.302],.15]],
 [["o",[1.265,1.27],.02],["k",[1.333],.02],["p",[1.29,1.38,1.405,1.41,1.415,1.437,1.442],.02],["gy",[1.385],.02]],
 [["c",[1.265,1.27],.02],["k",[1.305,1.33],.02],["o",[1.398,1.402],.02],["b",[1.44],.02],["p",[1.443],.02]],
 [["k",[1.33,1.335,1.34],.02],["r",[1.375],.02],["gy",[1.385],.02],["b",[1.40],.02],["p",[1.443],.02]],
 [["r",[1.36],.02],["p",[1.385],.02],["c",[1.405],.02],["b",[1.425,1.43],.02]],
 [["r",[1.258],.02],["p",[1.268],.02],["b",[1.378,1.38,1.385],.02],["o",[1.382],.02],["b",[1.44,1.445],.02]],
 [["o",[1.255,1.262],.02],["b",[1.267],.02],["g",[1.306],.02],["k",[1.332],.02],["b",[1.378,1.382],.02]],
 [["o",[1.27],.02],["p",[1.385],.02],["k",[1.345,1.42,1.425],.02]],
 [["k",[1.325,1.33,1.335],.02],["p",[1.385],.02],["n",[1.405],.02]],
 [["k",[1.315,1.327,1.33],.02]],
 [["p",[1.385],.02]],
 [["b",[1.33,1.335],.02],["p",[1.385],.12]],
 [["g",[1.28],.02],["p",[1.385],.02],["g",[1.405],.02]],
 [["k",[1.27,1.29,1.295,1.31,1.322,1.326,1.33,1.335,1.42,1.425],.02],["k",[1.385],.02]]
];
// ---- rendering ----
const COLORS = {b:"#1f77b4",o:"#ff7f0e",g:"#2ca02c",r:"#d62728",p:"#9467bd",n:"#8c564b",k:"#e377c2",gy:"#7f7f7f",ol:"#bcbd22",c:"#17becf"};
const NS = "http://www.w3.org/2000/svg";
const svg = document.getElementById("fig");
const AX_W = 273, AX_H = 260, COL_X = [151, 479, 807], ROW_Y0 = 576, ROW_STEP = 312.4;
const X_MIN = 1.25, X_MAX = 1.449, Y_MIN = 0, Y_MAX = 1.4;
function mk(tag, attrs, parent){ const e=document.createElementNS(NS,tag); for(const k in attrs) e.setAttribute(k,attrs[k]); (parent||svg).appendChild(e); return e; }

panelTitles.forEach((title, i) => {
  const L = COL_X[i % 3], T = ROW_Y0 + Math.floor(i / 3) * ROW_STEP;
  const xs = v => L + (v - X_MIN) / (X_MAX - X_MIN) * AX_W;
  const ys = v => T + AX_H - (v - Y_MIN) / (Y_MAX - Y_MIN) * AX_H;
  const g = mk("g", {});
  
  
  const clipId = "clip" + i;
  const cp = mk("clipPath", {id: clipId}, g);
  mk("rect", {x: L, y: T, width: AX_W, height: AX_H}, cp);
  const plot = mk("g", {"clip-path": "url(#" + clipId + ")"}, g);
  
  
  const gap = panelGaps[i];
  panelLayers[i].forEach((layer, li) => {
    const [ck, lo, hi, fx] = layer;
    const f = fx || knotFreqs;
    let pts = [];
    for (let j = 0; j < f.length; j++) pts.push(xs(f[j]).toFixed(1) + "," + ys(hi[j]).toFixed(1));
    for (let j = f.length - 1; j >= 0; j--) pts.push(xs(f[j]).toFixed(1) + "," + ys(lo[j]).toFixed(1));
    const poly = mk("polygon", {points: pts.join(" "), fill: COLORS[ck], stroke: COLORS[ck], "stroke-width": 1.5, "stroke-linejoin": "round"}, plot);
    
    
  });
  if (gap) {
    const gx0 = xs(gap[0]), gx1 = xs(gap[1]);
    mk("rect", {x: gx0, y: T, width: gx1 - gx0, height: AX_H, fill: "#fff"}, plot);
    const gp = mk("path", {d: `M${gx0},${ys(0.75)} L${gx0},${ys(0.012)} L${gx1},${ys(0.012)} L${gx1},${ys(0.75)}`, fill: "none", stroke: COLORS[gap[2]], "stroke-width": 2}, plot);
    
    
  }
  panelSpikes[i].forEach(sp => {
    const [ck, fs, ymin] = sp;
    fs.forEach(fv => {
      const ln = mk("line", {x1: xs(fv), x2: xs(fv), y1: ys(0.72), y2: ys(ymin), stroke: COLORS[ck], "stroke-width": 2}, plot);
      
      
    });
  });
  // frame
  const fr = mk("rect", {x: L, y: T, width: AX_W, height: AX_H, fill: "none", stroke: "#000", "stroke-width": 1}, g);
  
  
  yTicks.forEach((v, k) => {
    const y = ys(v);
    mk("line", {x1: L - 3.5, x2: L, y1: y, y2: y, stroke: "#000", "stroke-width": 0.8}, g);
    const t = mk("text", {x: L - 6, y: y + 4.5, "text-anchor": "end", "font-size": 12.5, fill: "#000"}, g);
    t.textContent = yTickLabels[k];
    
    
  });
  xTicks.forEach((v, k) => {
    const x = xs(v);
    mk("line", {x1: x, x2: x, y1: T + AX_H, y2: T + AX_H + 3.5, stroke: "#000", "stroke-width": 0.8}, g);
    const t = mk("text", {x: x, y: T + AX_H + 20, "text-anchor": "middle", "font-size": 12.5, fill: "#000"}, g);
    t.textContent = xTickLabels[k];
    
    
  });
  const off = mk("text", {x: L + AX_W - 1, y: T + AX_H + 38, "text-anchor": "end", "font-size": 12.5, fill: "#000"}, g);
  off.textContent = "1e9";
  
  
  const tt = mk("text", {x: L + AX_W / 2, y: T - 8, "text-anchor": "middle", "font-size": 16.2, fill: "#000"}, g);
  tt.textContent = title;
  
  
});

// legend in last panel
(function(){
  const lg = mk("g", {});
  
  
  mk("rect", {x: 813.5, y: 4010, width: 79, height: 255, rx: 3, fill: "#fff", "fill-opacity": 0.8, stroke: "#ccc", "stroke-width": 1}, lg);
  legendLabels.forEach((lab, k) => {
    const y = 4022 + k * 21;
    const e = mk("g", {}, lg);
    
    
    mk("line", {x1: 818, x2: 848, y1: y, y2: y, stroke: COLORS[legendKeys[k]], "stroke-width": 2}, e);
    const t = mk("text", {x: 858, y: y + 4.5, "font-size": 13, fill: "#000"}, e);
    t.textContent = lab;
  });
})();
</script>
</body></html>
